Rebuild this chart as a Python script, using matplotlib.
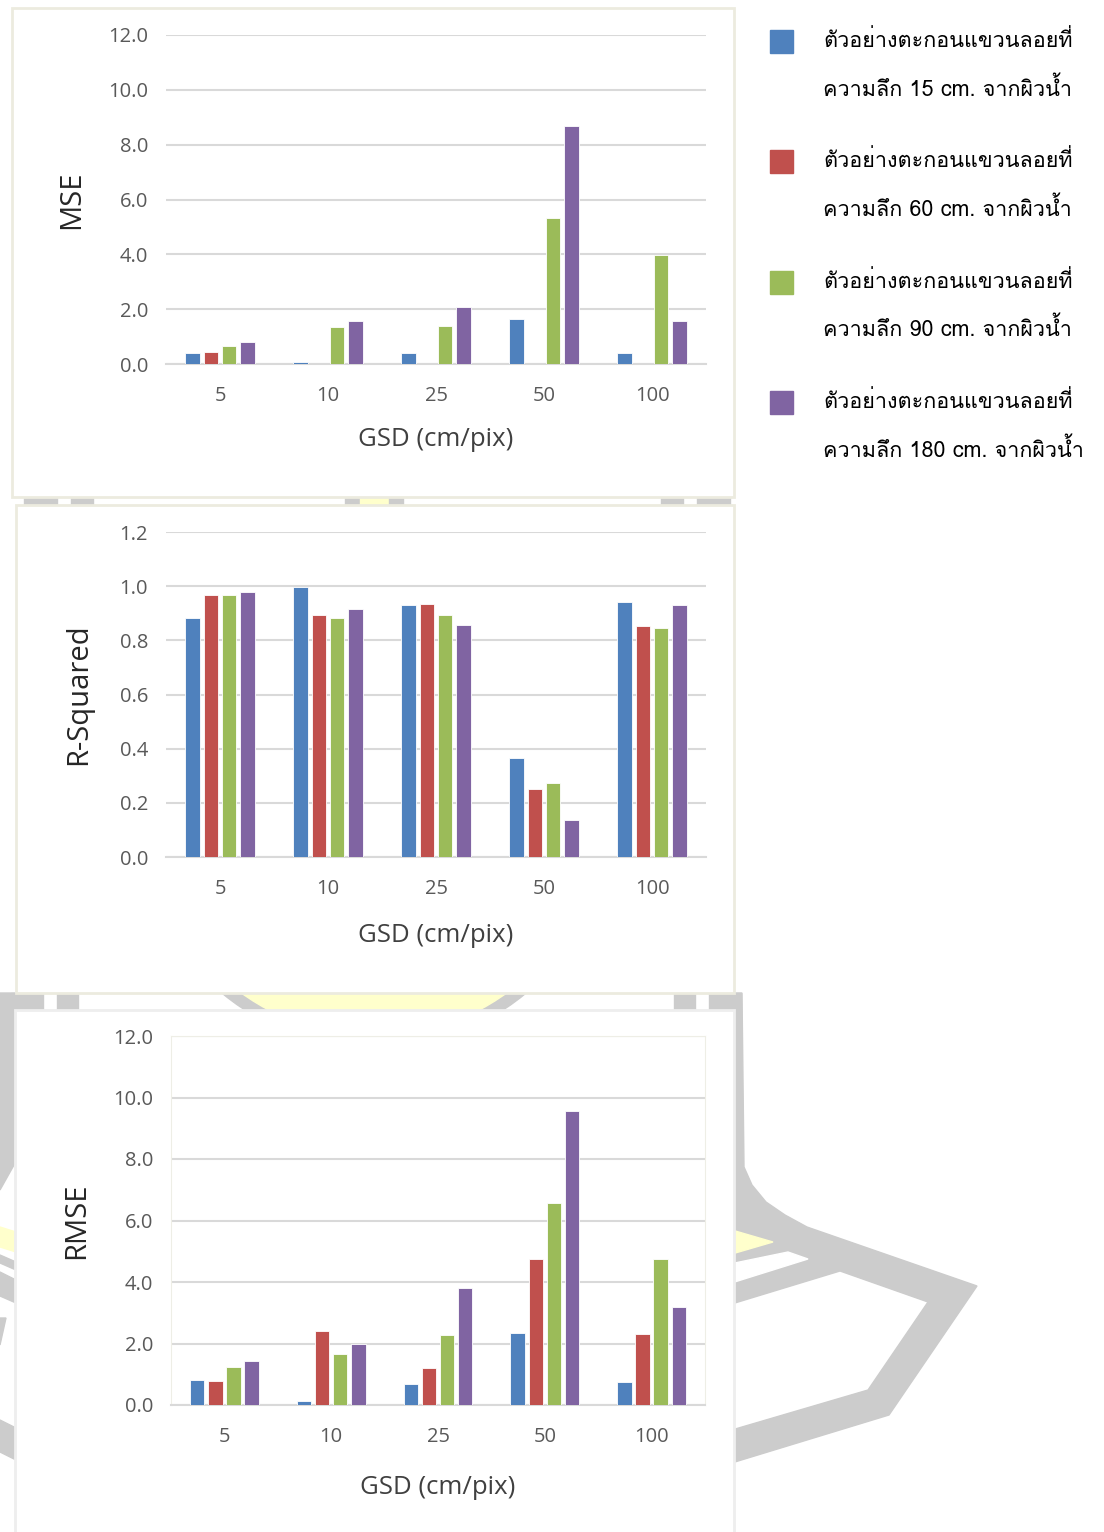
import numpy as np
import matplotlib
matplotlib.use('Agg')
import matplotlib.pyplot as plt
from matplotlib import font_manager
from matplotlib.ft2font import FT2Font
from matplotlib.patches import Polygon, Rectangle, Circle

# ---- data ----
gsd = ['5', '10', '25', '50', '100']
series_names = ['15', '60', '90', '180']
colors = ['#4F81BD', '#C0504D', '#9BBB59', '#8064A2']

mse_15 = [0.40, 0.07, 0.40, 1.65, 0.40]
mse_60 = [0.44, 0.0, 0.0, 0.0, 0.0]
mse_90 = [0.64, 1.35, 1.39, 5.33, 3.96]
mse_180 = [0.82, 1.56, 2.08, 8.68, 1.56]

r2_15 = [0.883, 0.998, 0.929, 0.364, 0.942]
r2_60 = [0.966, 0.893, 0.934, 0.252, 0.852]
r2_90 = [0.966, 0.883, 0.893, 0.274, 0.844]
r2_180 = [0.979, 0.916, 0.857, 0.135, 0.929]

rmse_15 = [0.81, 0.12, 0.67, 2.35, 0.74]
rmse_60 = [0.77, 2.42, 1.19, 4.76, 2.32]
rmse_90 = [1.24, 1.66, 2.27, 6.57, 4.76]
rmse_180 = [1.43, 1.97, 3.81, 9.56, 3.19]

legend_line1 = 'ตัวอย่างตะกอนแขวนลอยที่'
legend_line2 = 'ความลึก {} cm. จากผิวน้ำ'

# find a font that can draw Thai
thai_font = None
for f in font_manager.fontManager.ttflist:
    try:
        if FT2Font(f.fname).get_char_index(ord('ก')):
            thai_font = f.name
            break
    except Exception:
        pass
thai_family = [thai_font, 'DejaVu Sans'] if thai_font else ['DejaVu Sans']

plt.rcParams['font.family'] = ['Open Sans', 'DejaVu Sans']

W, H = 1104, 1532
fig = plt.figure(figsize=(W / 100, H / 100), dpi=100)

# background layer in pixel coordinates (watermark + white panels)
bg = fig.add_axes([0, 0, 1, 1], zorder=0)
bg.set_xlim(0, W)
bg.set_ylim(H, 0)
bg.axis('off')

gray = '#cccccc'
yel = '#ffffcc'
bg.add_patch(Circle((374, 810), 238, color=gray, zorder=1))
bg.add_patch(Circle((374, 810), 226, color=yel, zorder=1))
for x0, x1, c in [(24, 57, gray), (71, 93, gray), (345, 360, gray), (360, 389, yel),
                  (389, 403, gray), (661, 683, gray), (697, 730, gray)]:
    bg.add_patch(Rectangle((x0, 490), x1 - x0, 30, color=c, zorder=1))
for x0, x1 in [(11, 43), (57, 78), (674, 695), (709, 741)]:
    bg.add_patch(Rectangle((x0, 993), x1 - x0, 30, color=gray, zorder=1))
bg.add_patch(Polygon([(725, 993), (742, 993), (744, 1167), (752, 1185), (766, 1202),
                      (785, 1215), (807, 1227), (977, 1286), (889, 1415), (725, 1465),
                      (725, 1432), (868, 1390), (928, 1302), (840, 1271), (725, 1306)],
                     closed=True, color=gray, zorder=1))
bg.add_patch(Polygon([(725, 1265), (788, 1252), (808, 1259), (725, 1285)], color='white', zorder=1))
bg.add_patch(Polygon([(725, 1228), (773, 1242), (725, 1256)], color=yel, zorder=1))
bg.add_patch(Polygon([(0, 993), (15, 993), (14, 1165), (0, 1190)], color=gray, zorder=1))
bg.add_patch(Polygon([(0, 1227), (16, 1232), (16, 1252), (0, 1247)], color=yel, zorder=1))
bg.add_patch(Polygon([(0, 1255), (16, 1262), (16, 1270), (0, 1263)], color=gray, zorder=1))
bg.add_patch(Polygon([(0, 1272), (16, 1280), (16, 1303), (0, 1296)], color=gray, zorder=1))
bg.add_patch(Polygon([(0, 1318), (6, 1318), (0, 1345)], color=gray, zorder=1))
bg.add_patch(Polygon([(0, 1420), (16, 1428), (16, 1460), (0, 1452)], color=gray, zorder=1))

# white chart panels
bg.add_patch(Rectangle((12, 8), 722, 489, facecolor='white', edgecolor='#ecebdf', lw=2, zorder=2))
bg.add_patch(Rectangle((16, 505), 718, 488, facecolor='white', edgecolor='#ecebdf', lw=2, zorder=2))
bg.add_patch(Rectangle((15, 1010), 719, 530, facecolor='white', edgecolor='#eeeeee', lw=2, zorder=2))


def make_axes(x0, y0, x1, y1):
    return fig.add_axes([x0 / W, 1 - y1 / H, (x1 - x0) / W, (y1 - y0) / H], zorder=3)


def draw_bars(ax, data, ymax, step, ylabel, ylpad, xpad, xlpad, frame=False):
    x = np.arange(len(gsd))
    pitch = 0.17
    width = 0.135
    for i, vals in enumerate(data):
        ax.bar(x + (i - 1.5) * pitch, vals, width, color=colors[i],
               edgecolor='white', linewidth=0.6, zorder=3)
    ax.set_xlim(-0.5, len(gsd) - 0.5)
    ax.set_ylim(0, ymax)
    ticks = np.arange(0, ymax + step / 2, step)
    ax.set_yticks(ticks)
    ax.set_yticklabels(['{:.1f}'.format(t) for t in ticks])
    ax.set_xticks(x)
    ax.set_xticklabels(gsd)
    ax.yaxis.grid(True, color='#d9d9d9', lw=1.5, zorder=0)
    ax.set_axisbelow(True)
    ax.tick_params(length=0, labelsize=14.5, labelcolor='#595959')
    ax.tick_params(axis='y', pad=13)
    ax.tick_params(axis='x', pad=xpad)
    ax.set_facecolor('none')
    for s in ['top', 'right', 'left']:
        ax.spines[s].set_visible(frame)
        ax.spines[s].set_color('#eeeee6')
    ax.spines['bottom'].set_color('#d9d9d9')
    ax.spines['bottom'].set_linewidth(1.5)
    ax.set_xlabel('GSD (cm/pix)', fontsize=18.5, color='#404040', labelpad=xlpad)
    ax.set_ylabel(ylabel, fontsize=21, color='#262626', labelpad=ylpad)


ax1 = make_axes(166, 35, 706, 364)
draw_bars(ax1, [mse_15, mse_60, mse_90, mse_180], 12, 2, 'MSE', 16, 16, 15)

ax2 = make_axes(166, 532, 706, 857)
draw_bars(ax2, [r2_15, r2_60, r2_90, r2_180], 1.2, 0.2, 'R-Squared', 19, 16, 17)

ax3 = make_axes(171, 1036, 705, 1405)
draw_bars(ax3, [rmse_15, rmse_60, rmse_90, rmse_180], 12, 2, 'RMSE', 16, 16, 20, frame=True)

# legend on the right
for i, name in enumerate(series_names):
    y = 41 + i * 120.3
    bg.add_patch(Rectangle((770, y - 11), 23, 23, color=colors[i], zorder=3))
    bg.text(823, y, legend_line1, fontsize=15.5, family=thai_family,
            va='center', ha='left', color='black', zorder=3)
    bg.text(823, y + 48, legend_line2.format(name), fontsize=15.5, family=thai_family,
            va='center', ha='left', color='black', zorder=3)

fig.savefig('out.png', dpi=100)
